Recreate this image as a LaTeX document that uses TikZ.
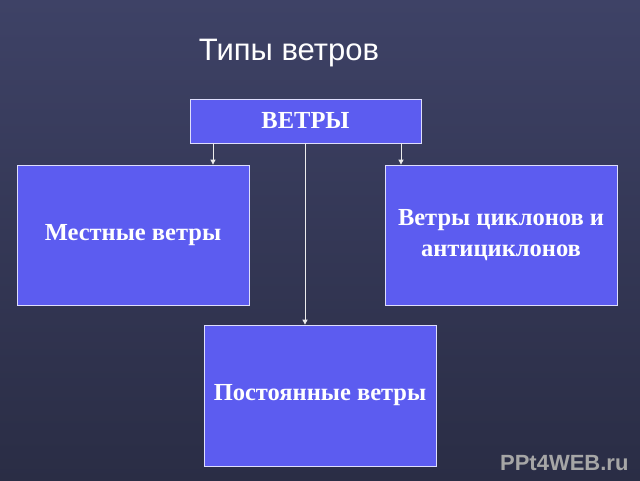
\documentclass[tikz,border=0pt]{standalone}
\usepackage{fontspec}
\setmainfont{Liberation Serif}
\newfontfamily\titlefont{Liberation Sans}
\usetikzlibrary{arrows.meta}
\definecolor{boxblue}{HTML}{5C5CF0}
\definecolor{bgtop}{HTML}{3E4266}
\definecolor{bgbot}{HTML}{2A2D45}
\tikzset{
  box/.style={draw=white!80!boxblue, line width=0.8pt, fill=boxblue, text=white, font=\bfseries\fontsize{24.5}{31}\selectfont, align=center, inner sep=0pt},
  conn/.style={draw=white!85!gray, line width=0.8pt, -{Triangle[width=5pt,length=5pt]}}
}
\begin{document}
\begin{tikzpicture}[x=1pt,y=-1pt]
\useasboundingbox (0,0) rectangle (640,480);
\shade[top color=bgtop, bottom color=bgbot] (0,0) rectangle (640,480);
\node[text=white, font=\titlefont\fontsize{31}{34}\selectfont] (title) at (289,53) {Типы ветров};
\node[box, minimum width=231pt, minimum height=44pt] (w) at (305.5,121) {ВЕТРЫ};
\node[box, minimum width=232pt, minimum height=140pt] (l) at (133,235) {Местные ветры};
\node[box, minimum width=232pt, minimum height=140pt] (r) at (501,235) {Ветры циклонов и\\антициклонов};
\node[box, minimum width=232pt, minimum height=141pt] (b) at (320,395.5) {Постоянные ветры};
\draw[conn] (w.south -| 213,0) -- (l.north -| 213,0);
\draw[conn] (w.south -| 401,0) -- (r.north -| 401,0);
\draw[conn] (w.south -| 305,0) -- (b.north -| 305,0);
\node[text=gray!70, font=\titlefont\bfseries\fontsize{22}{24}\selectfont, anchor=east] (wm) at (632,463) {PPt4WEB.ru};
\end{tikzpicture}
\end{document}
